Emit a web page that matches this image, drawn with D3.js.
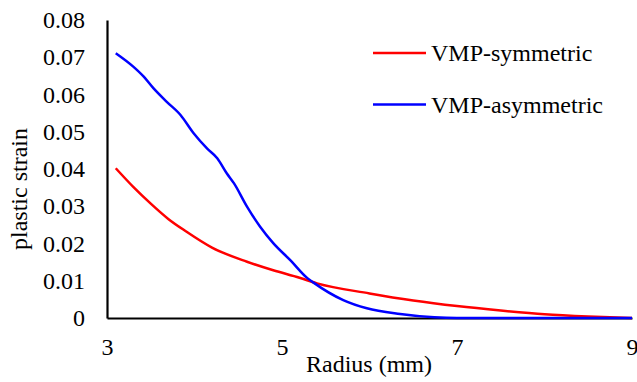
<!DOCTYPE html>
<html>
<head>
<meta charset="utf-8">
<script src="https://cdn.jsdelivr.net/npm/d3@7"></script>
<style>
  body { margin: 0; background: #fff; }
  svg text { font-family: "Liberation Serif", "Times New Roman", serif !important; fill: #000; }
</style>
</head>
<body>
<svg id="chart" width="637" height="382"></svg>
<script>
// radius (mm) and plastic strain
let symRadius = [3.1, 3.3, 3.5, 3.7, 3.9, 4.2, 4.6, 4.9, 5.2, 5.4, 6.0, 6.5, 7.0, 7.5, 8.0, 8.5, 9.0];
let symStrain = [0.0402, 0.0352, 0.0307, 0.0266, 0.0233, 0.0189, 0.0151, 0.0128, 0.0108, 0.0093, 0.0066, 0.0047, 0.0032, 0.002, 0.001, 0.0004, 0.0];

let asymRadius = [3.1, 3.3, 3.42, 3.53, 3.68, 3.84, 3.99, 4.14, 4.26, 4.37, 4.45, 4.6, 4.75, 4.9, 5.1, 5.29, 5.36, 5.7, 5.97, 6.35, 6.74, 7.0, 8.0, 9.0];
let asymStrain = [0.0711, 0.0675, 0.0648, 0.0617, 0.0581, 0.0545, 0.0496, 0.0456, 0.0429, 0.0388, 0.0362, 0.0299, 0.0245, 0.0201, 0.0154, 0.0107, 0.0095, 0.0048, 0.0026, 0.0011, 0.0002, 0.0, 0.0, 0.0];

let xTicks = [3, 5, 7, 9];
let yTicks = [0, 0.01, 0.02, 0.03, 0.04, 0.05, 0.06, 0.07, 0.08];

let seriesNames = ["VMP-symmetric", "VMP-asymmetric"];
let seriesColors = ["#ff0000", "#0000ff"];

let serif = "'Liberation Serif', 'Times New Roman', serif";

let svg = d3.select("#chart");

let x = d3.scaleLinear().domain([3, 9]).range([107, 632]);
let y = d3.scaleLinear().domain([0, 0.08]).range([318, 20]);

// axes, no tick marks
let xAxis = svg
  .append("g")
  .attr("transform", "translate(0," + y(0) + ")")
  .call(d3.axisBottom(x).tickValues(xTicks).tickSize(0).tickPadding(20).tickFormat(d3.format("d")));

let yAxis = svg
  .append("g")
  .attr("transform", "translate(" + x(3) + ",0)")
  .call(d3.axisLeft(y).tickValues(yTicks).tickSize(0).tickPadding(22).tickFormat((d) => (d === 0 ? "0" : d3.format(".2f")(d))));

[xAxis, yAxis].forEach((g) => {
  g.attr("font-family", null).attr("font-size", null);
  g.select(".domain").attr("stroke", "#000").attr("stroke-width", 2.2);
  g.selectAll("text").style("font-family", serif).style("font-size", "24px");
});

let line = d3
  .line()
  .x((d) => x(d[0]))
  .y((d) => y(d[1]))
  .curve(d3.curveMonotoneX);

let series = [
  d3.zip(symRadius, symStrain),
  d3.zip(asymRadius, asymStrain),
];

svg
  .selectAll("path.series")
  .data(series)
  .enter()
  .append("path")
  .attr("class", "series")
  .attr("fill", "none")
  .attr("stroke", (d, i) => seriesColors[i])
  .attr("stroke-width", 2.5)
  .attr("d", line);

// legend
let legend = svg
  .selectAll("g.legend")
  .data(seriesNames)
  .enter()
  .append("g")
  .attr("class", "legend")
  .attr("transform", (d, i) => "translate(373," + (53 + i * 51.5) + ")");

legend
  .append("line")
  .attr("x1", 0)
  .attr("x2", 53)
  .attr("stroke", (d, i) => seriesColors[i])
  .attr("stroke-width", 2.5);

legend
  .append("text")
  .attr("x", 58)
  .attr("dy", "0.35em")
  .style("font-size", "24px")
  .text((d) => d);

// axis titles
svg
  .append("text")
  .attr("x", 369)
  .attr("y", 372)
  .attr("text-anchor", "middle")
  .style("font-size", "24px")
  .text("Radius (mm)");

svg
  .append("text")
  .attr("transform", "translate(27,189) rotate(-90)")
  .attr("text-anchor", "middle")
  .style("font-size", "24px")
  .text("plastic strain");
</script>
</body>
</html>
